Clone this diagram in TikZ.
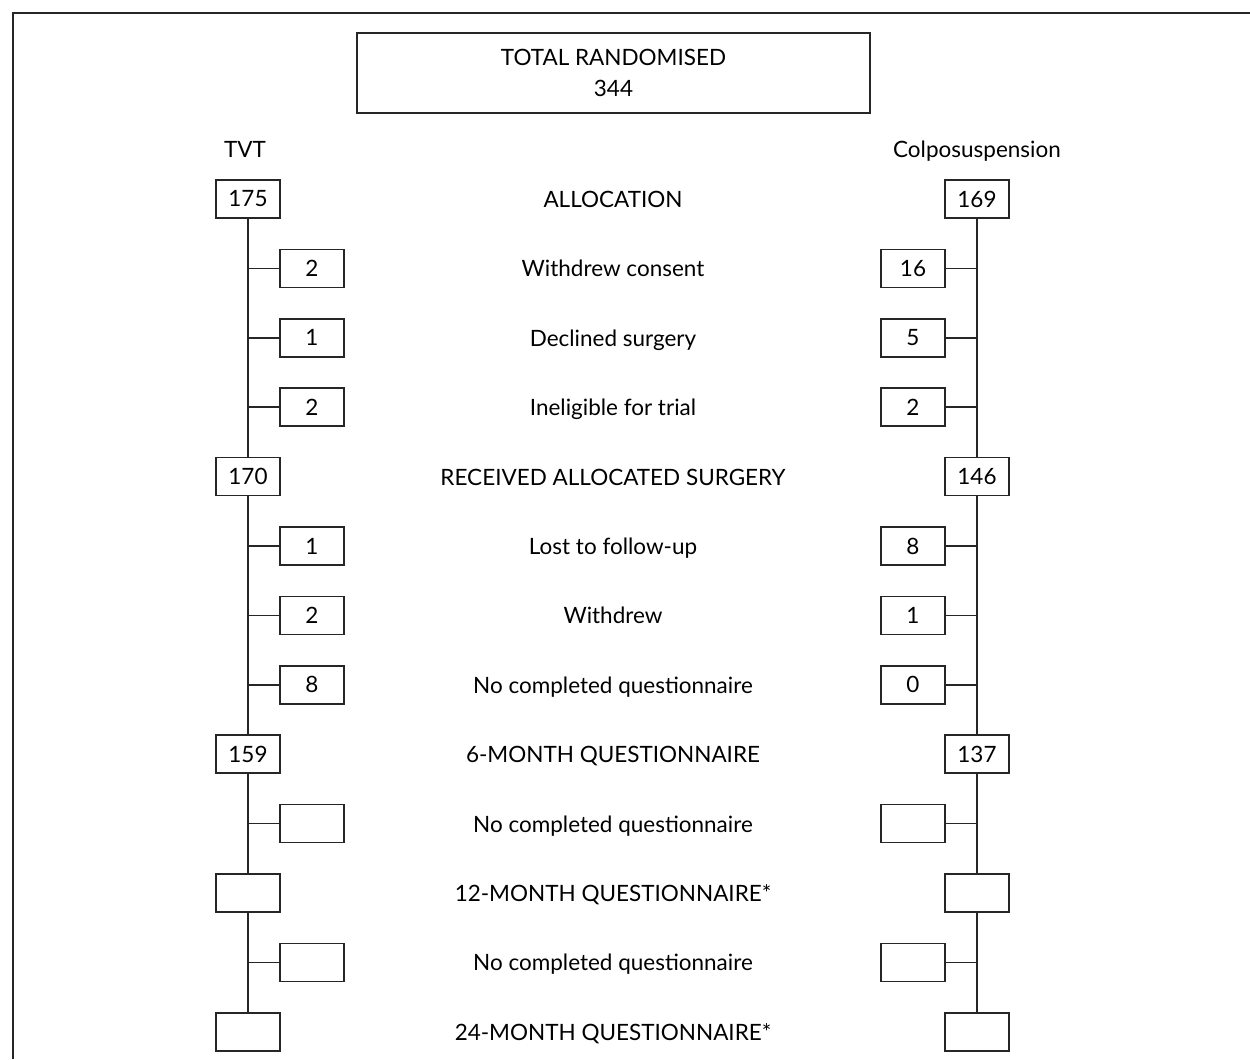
\documentclass[tikz,border=0pt]{standalone}
\usepackage{fontspec}
\setmainfont{Lato}
\begin{document}
\begin{tikzpicture}[x=0.02cm,y=-0.02cm,
  box/.style={draw, black!85, text=black, line width=0.9pt, minimum width=1.28cm, minimum height=0.76cm, inner sep=0pt, font=\fontsize{12.8}{15}\selectfont},
  lbl/.style={anchor=base, font=\fontsize{12.8}{15}\selectfont},
  conn/.style={black!85, line width=0.9pt}]
\useasboundingbox (0,0) rectangle (1250,1059);
\draw [black!85, line width=1.2pt] (13,1059)--(13,13)--(1250,13);
\node[box, minimum width=10.26cm, minimum height=1.6cm, align=center] (total) at (613.5,73) {TOTAL RANDOMISED\\[3pt]344};
\node[lbl] (tvt) at (245,157) {TVT};
\node[lbl] (colpo) at (977,157) {Colposuspension};
% main rows
\foreach \k/\a/\b/\t in {0/175/169/ALLOCATION, 4/170/146/RECEIVED ALLOCATED SURGERY,
  8/159/137/6-MONTH QUESTIONNAIRE, 10/{}/{}/12-MONTH QUESTIONNAIRE*, 12/{}/{}/24-MONTH QUESTIONNAIRE*} {
  \node[box] (tvt\k) at (248,199+69.4*\k) {\a};
  \node[box] (col\k) at (977,199+69.4*\k) {\b};
  \node[lbl] (lab\k) at (613,207.5+69.4*\k) {\t};
}
% losses
\foreach \k/\a/\b/\t in {1/2/16/Withdrew consent, 2/1/5/Declined surgery, 3/2/2/Ineligible for trial,
  5/1/8/Lost to follow-up, 6/2/1/Withdrew, 7/8/0/No completed questionnaire,
  9/{}/{}/No completed questionnaire, 11/{}/{}/No completed questionnaire} {
  \node[box] (tvts\k) at (312,199+69.4*\k) {\a};
  \node[box] (cols\k) at (913,199+69.4*\k) {\b};
  \node[lbl] (lab\k) at (613,207.5+69.4*\k) {\t};
  \draw [conn] (tvts\k.west) -- (tvts\k.west -| tvt0.south);
  \draw [conn] (cols\k.east) -- (cols\k.east -| col0.south);
}
\foreach \i/\j in {0/4,4/8,8/10,10/12} {
  \draw [conn] (tvt\i) -- (tvt\j);
  \draw [conn] (col\i) -- (col\j);
}
\end{tikzpicture}
\end{document}
